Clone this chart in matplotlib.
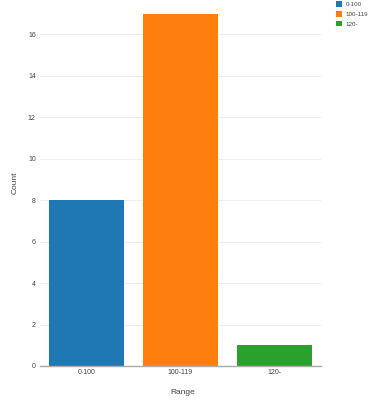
import matplotlib

matplotlib.use('Agg')
import matplotlib.pyplot as plt
from matplotlib.patches import Patch

categories = ['0-100', '100-119', '120-']
counts = [8, 17, 1]
colors = ['#1f77b4', '#ff7f0e', '#2ca02c']
yticks = [0, 2, 4, 6, 8, 10, 12, 14, 16]

TEXT = '#444444'
GRID = '#eeeeee'
W, H = 377, 400

plt.rcParams['font.family'] = ['Liberation Sans', 'DejaVu Sans']

fig = plt.figure(figsize=(W / 100, H / 100), dpi=100)
ax = fig.add_axes([40 / W, 34 / H, 281 / W, 366 / H])

x = range(len(categories))
ax.bar(x, counts, width=0.8, color=colors, zorder=2)

ax.set_xlim(-0.5, len(categories) - 0.5)
ax.set_ylim(0, 17.66)
ax.set_yticks(yticks)
ax.set_xticks(list(x))
ax.set_xticklabels(categories)
ax.grid(axis='y', color=GRID, linewidth=0.8, zorder=0)
ax.grid(axis='x', visible=False)

for side in ['top', 'right', 'left']:
    ax.spines[side].set_visible(False)
ax.spines['bottom'].set_color('#aaaaaa')
ax.spines['bottom'].set_linewidth(1.0)
ax.spines['bottom'].set_zorder(3)

ax.tick_params(axis='y', length=0, pad=3, labelsize=5, labelcolor=TEXT)
ax.tick_params(axis='x', length=0, pad=2, labelsize=5, labelcolor=TEXT)

fig.text(183 / W, 1 - 392 / H, 'Range', fontsize=6, color=TEXT, ha='center', va='center')
fig.text(15 / W, 1 - 183 / H, 'Count', fontsize=6, color=TEXT, ha='center', va='center',
         rotation=90)

handles = [Patch(facecolor=c, label=l) for c, l in zip(colors, categories)]
fig.legend(handles=handles, loc='upper left', bbox_to_anchor=(332 / W, 1.006),
           frameon=False, fontsize=4.5, labelcolor=TEXT, handlelength=0.96,
           handleheight=0.96, handletextpad=0.6, labelspacing=0.62, borderpad=0.1)

fig.savefig('out.png', dpi=100)
